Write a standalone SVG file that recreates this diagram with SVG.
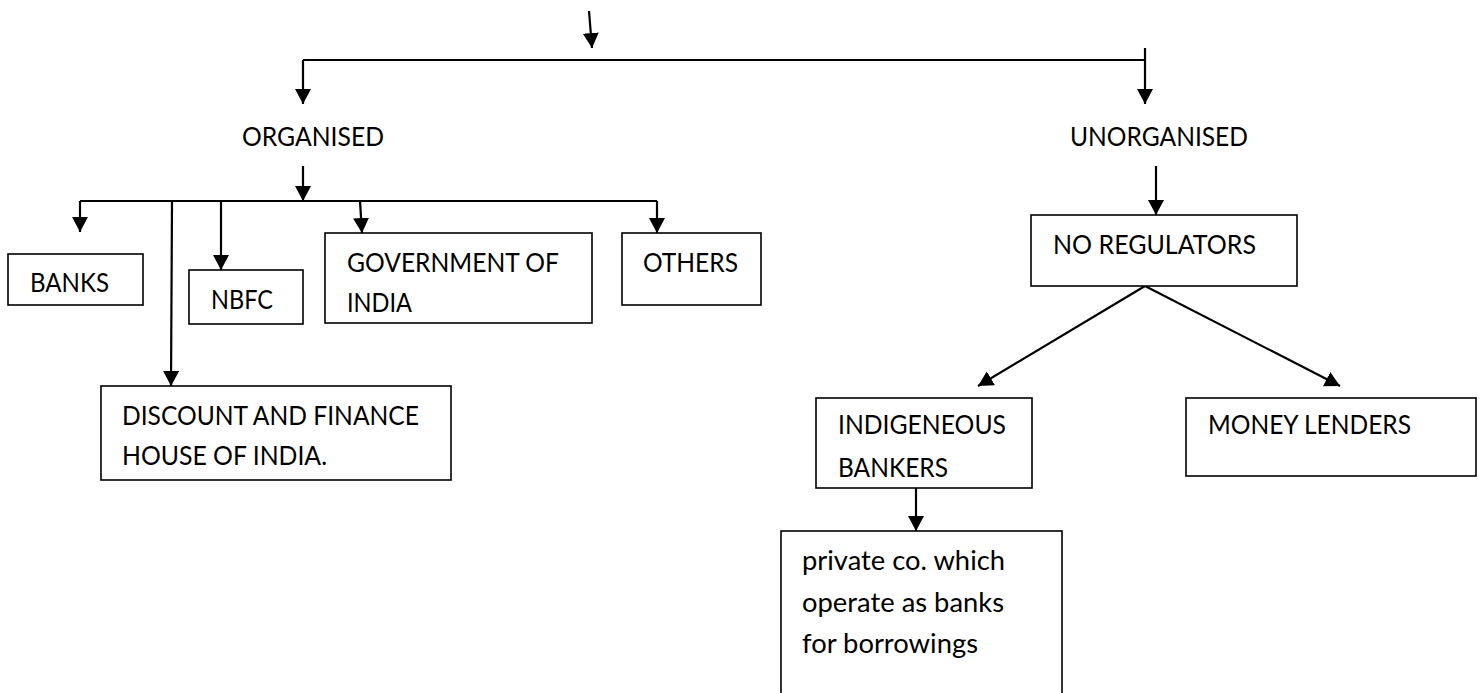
<svg xmlns="http://www.w3.org/2000/svg" width="1483" height="693" viewBox="0 0 1483 693">
<style>
.bx{fill:#fff;stroke:#000;stroke-width:1.6}
.t{font-family:Lato,"Open Sans",sans-serif;font-size:26.5px;fill:#000}
.c{fill:none;stroke:#000;stroke-width:2.2}
</style>
<defs>
<marker id="ah" markerUnits="userSpaceOnUse" markerWidth="16" markerHeight="16" viewBox="0 0 16 16" refX="15" refY="8" orient="auto">
<path d="M0,0 L15,8 L0,16 Z" fill="#000"/>
</marker>
</defs>
<rect width="1483" height="693" fill="#fff"/>
<g id="connectors">
<path class="c" d="M589,11 L592,48" marker-end="url(#ah)"/>
<path class="c" d="M303,60 H1145" style="stroke-width:1.8"/>
<path class="c" d="M303,60 V104" marker-end="url(#ah)"/>
<path class="c" d="M1145,48 V104" marker-end="url(#ah)"/>
<path class="c" d="M303,166 V201" marker-end="url(#ah)"/>
<path class="c" d="M80,201 H657"/>
<path class="c" d="M80,201 V232" marker-end="url(#ah)"/>
<path class="c" d="M172,201 L171,386" marker-end="url(#ah)"/>
<path class="c" d="M221,201 V270" marker-end="url(#ah)"/>
<path class="c" d="M360,201 L362,233" marker-end="url(#ah)"/>
<path class="c" d="M657,201 V233" marker-end="url(#ah)"/>
<path class="c" d="M1156,166 V215" marker-end="url(#ah)"/>
<path class="c" d="M1145,286 L978,386" marker-end="url(#ah)"/>
<path class="c" d="M1145,286 L1340,386" marker-end="url(#ah)"/>
<path class="c" d="M916,488 V531" marker-end="url(#ah)"/>
</g>
<g id="organised"><text class="t" x="242" y="146" textLength="142" lengthAdjust="spacingAndGlyphs">ORGANISED</text></g>
<g id="unorganised"><text class="t" x="1070" y="146" textLength="178" lengthAdjust="spacingAndGlyphs">UNORGANISED</text></g>
<g id="banks"><rect class="bx" x="8" y="254" width="135" height="51"/><text class="t" x="30" y="292" textLength="79" lengthAdjust="spacingAndGlyphs">BANKS</text></g>
<g id="nbfc"><rect class="bx" x="189" y="270" width="114" height="54"/><text class="t" x="211" y="309" textLength="62" lengthAdjust="spacingAndGlyphs">NBFC</text></g>
<g id="govt"><rect class="bx" x="325" y="233" width="267" height="90"/><text class="t" x="347" y="272" textLength="212" lengthAdjust="spacingAndGlyphs">GOVERNMENT OF</text><text class="t" x="347" y="312" textLength="65" lengthAdjust="spacingAndGlyphs">INDIA</text></g>
<g id="others"><rect class="bx" x="622" y="233" width="139" height="72"/><text class="t" x="643" y="272" textLength="95" lengthAdjust="spacingAndGlyphs">OTHERS</text></g>
<g id="discount"><rect class="bx" x="101" y="386" width="350" height="94"/><text class="t" x="122" y="425" textLength="297" lengthAdjust="spacingAndGlyphs">DISCOUNT AND FINANCE</text><text class="t" x="122" y="465" textLength="205" lengthAdjust="spacingAndGlyphs">HOUSE OF INDIA.</text></g>
<g id="noreg"><rect class="bx" x="1031" y="215" width="266" height="71"/><text class="t" x="1053" y="254" textLength="203" lengthAdjust="spacingAndGlyphs">NO REGULATORS</text></g>
<g id="indigenous"><rect class="bx" x="816" y="398" width="216" height="90"/><text class="t" x="838" y="434" textLength="168" lengthAdjust="spacingAndGlyphs">INDIGENEOUS</text><text class="t" x="838" y="477" textLength="110" lengthAdjust="spacingAndGlyphs">BANKERS</text></g>
<g id="moneylenders"><rect class="bx" x="1186" y="398" width="290" height="78"/><text class="t" x="1208" y="434" textLength="203" lengthAdjust="spacingAndGlyphs">MONEY LENDERS</text></g>
<g id="private"><rect class="bx" x="781" y="531" width="281" height="175"/><text class="t" x="802" y="570" textLength="203" lengthAdjust="spacingAndGlyphs">private co. which</text><text class="t" x="802" y="612" textLength="202" lengthAdjust="spacingAndGlyphs">operate as banks</text><text class="t" x="802" y="653" textLength="176" lengthAdjust="spacingAndGlyphs">for borrowings</text></g>
</svg>
